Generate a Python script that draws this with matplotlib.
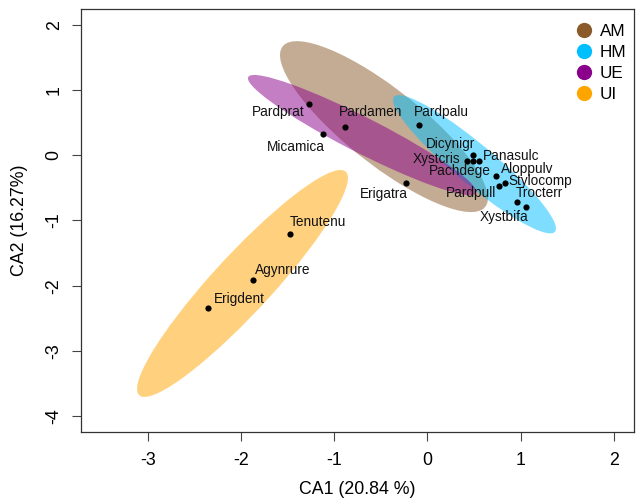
import numpy as np
import matplotlib
matplotlib.use('Agg')
import matplotlib.pyplot as plt
from matplotlib.patches import Ellipse
from matplotlib.lines import Line2D

plt.rcParams['font.family'] = ['Liberation Sans', 'DejaVu Sans']

# ---- data ----
species = ['Pardprat', 'Pardamen', 'Micamica', 'Pardpalu', 'Erigatra',
           'Dicynigr', 'Xystcris', 'Panasulc', 'Pachdege', 'Aloppulv',
           'Stylocomp', 'Pardpull', 'Trocterr', 'Xystbifa',
           'Tenutenu', 'Agynrure', 'Erigdent']
ca1 = [-1.27, -0.88, -1.12, -0.09, -0.23,
       0.49, 0.43, 0.55, 0.49, 0.74,
       0.83, 0.77, 1.06, 0.96,
       -1.47, -1.87, -2.35]
ca2 = [0.79, 0.43, 0.33, 0.47, -0.42,
       0.00, -0.08, -0.08, -0.08, -0.31,
       -0.42, -0.47, -0.79, -0.72,
       -1.21, -1.92, -2.35]

groups = ['AM', 'HM', 'UE', 'UI']
group_colors = ['#8B5A2B', '#00BFFF', '#8B008B', '#FFA500']
ell_cx = [-0.466, 0.505, -0.70, -1.984]
ell_cy = [0.44, -0.137, 0.31, -1.966]
ell_vxx = [1.245, 0.765, 1.503, 1.281]
ell_vyy = [1.719, 1.126, 0.851, 3.031]
ell_cxy = [-1.224, -0.862, -1.067, 1.83]

xlabel = 'CA1 (20.84 %)'
ylabel = 'CA2 (16.27%)'
xticks = [-3, -2, -1, 0, 1, 2]
yticks = [-4, -3, -2, -1, 0, 1, 2]

# label offsets (pixels, right / up) relative to each point
label_off = [(-31, -8), (25, 15), (-27, -13), (22, 13), (-22, -11),
             (-23, 11), (-31, 2), (32, 5), (-13, -10), (31, 7),
             (36, 2), (-28, -7), (13, 14), (-13, -15),
             (28, 12), (30, 10), (31, 9)]

# ---- figure ----
fig = plt.figure(figsize=(6.38, 4.99), dpi=100)
ax = fig.add_axes([0.1265, 0.1349, 0.9942 - 0.1265, 0.9814 - 0.1349])

for cx, cy, vxx, vyy, cxy, col in zip(ell_cx, ell_cy, ell_vxx, ell_vyy, ell_cxy, group_colors):
    cov = np.array([[vxx, cxy], [cxy, vyy]])
    vals, vecs = np.linalg.eigh(cov)
    major = vecs[:, 1]
    ang = np.degrees(np.arctan2(major[1], major[0]))
    e = Ellipse((cx, cy), 2 * np.sqrt(vals[1]), 2 * np.sqrt(vals[0]), angle=ang,
                facecolor=col, alpha=0.5, edgecolor='none', zorder=1)
    ax.add_patch(e)

ax.scatter(ca1, ca2, s=20, color='black', zorder=3, linewidths=0)
for name, x, y, (dx, dy) in zip(species, ca1, ca2, label_off):
    ax.annotate(name, (x, y), xytext=(dx, dy), textcoords='offset pixels',
                ha='center', va='center', fontsize=9.8, color='#111111', zorder=4)

ax.set_xlim(-3.72, 2.22)
ax.set_ylim(-4.24, 2.24)
ax.set_xticks(xticks)
ax.set_yticks(yticks)
ax.set_xticklabels([str(t) for t in xticks])
ax.set_yticklabels([str(t) for t in yticks], rotation=90, va='center')
ax.tick_params(axis='both', length=6.5, width=0.8, color='#444444', labelsize=12.8)
ax.tick_params(axis='x', pad=8.0)
ax.tick_params(axis='y', pad=6.5)
for sp in ax.spines.values():
    sp.set_linewidth(0.9)
    sp.set_color('#333333')

fig.text(0.5 * (0.1265 + 0.9942), 1 - 490 / 499, xlabel, ha='center', va='center', fontsize=12.8)
fig.text(20 / 638, 0.5 * (0.1349 + 0.9814), ylabel, ha='center', va='center', rotation=90, fontsize=12.8)

handles = [Line2D([], [], marker='o', linestyle='none', markersize=11,
                  markerfacecolor=c, markeredgecolor='none') for c in group_colors]
leg = ax.legend(handles, groups, loc='upper right', bbox_to_anchor=(0.9977, 0.9817),
                frameon=False, fontsize=12.3, handletextpad=0.3, labelspacing=0.36,
                borderaxespad=0.0, handlelength=1.2)

fig.savefig('out.png', dpi=100)
